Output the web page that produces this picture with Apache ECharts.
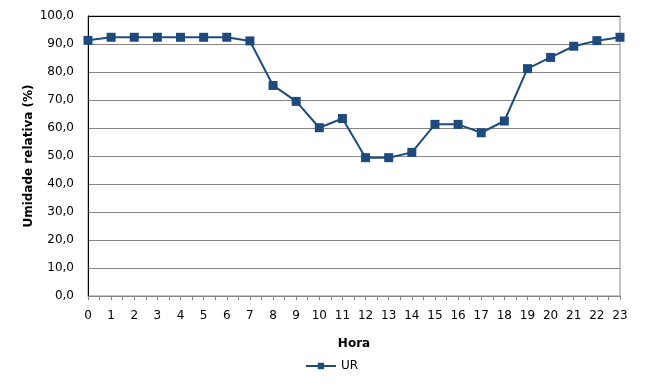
<!DOCTYPE html>
<html><head><meta charset="utf-8">
<script src="https://cdn.jsdelivr.net/npm/echarts@6/dist/echarts.min.js"></script>
<style>html,body{margin:0;padding:0;background:#fff}#c{width:663px;height:388px}</style>
</head><body><div id="c"></div>
<script>
const hours = [0,1,2,3,4,5,6,7,8,9,10,11,12,13,14,15,16,17,18,19,20,21,22,23];
const ur = [91.3,92.4,92.4,92.4,92.4,92.4,92.4,91.1,75.2,69.5,60.1,63.4,49.4,49.4,51.3,61.3,61.3,58.3,62.5,81.2,85.2,89.2,91.2,92.4];
const seriesName = 'UR';
const xTitle = 'Hora';
const yTitle = 'Umidade relativa (%)';

const font = 'DejaVu Sans, Verdana, sans-serif';
const chart = echarts.init(document.getElementById('c'));
const gridColors = ['#868686','#868686','#868686','#868686','#868686','#868686','#868686','#868686','#868686','#868686','#000000'];
chart.setOption({
  animation: false,
  textStyle: {fontFamily: font},
  grid: {left: 88, right: 43, top: 16, bottom: 92, show: true, borderColor: '#868686', borderWidth: 1},
  xAxis: {
    type: 'value', min: 0, max: 23, interval: 1,
    name: xTitle, nameLocation: 'middle', nameGap: 42,
    nameTextStyle: {fontWeight: 'bold', fontSize: 12, color: '#000', fontFamily: font},
    axisLine: {show: true, lineStyle: {color: '#868686'}},
    axisTick: {show: true, length: 4, lineStyle: {color: '#868686'}},
    minorTick: {show: true, splitNumber: 2, length: 4, lineStyle: {color: '#868686'}},
    axisLabel: {color: '#000', fontSize: 12, margin: 14, fontFamily: font},
    splitLine: {show: false}
  },
  yAxis: {
    type: 'value', min: 0, max: 100, interval: 10,
    name: yTitle, nameLocation: 'middle', nameGap: 53, nameMoveOverlap: false,
    nameTextStyle: {fontWeight: 'bold', fontSize: 12, color: '#000', fontFamily: font},
    axisLine: {show: true, lineStyle: {color: '#000'}},
    axisTick: {show: false},
    axisLabel: {color: '#000', fontSize: 12, margin: 14, fontFamily: font,
      formatter: v => v.toFixed(1).replace('.', ',')},
    splitLine: {show: true, lineStyle: {color: gridColors, width: 1}}
  },
  legend: {
    bottom: 11, left: 'center', itemWidth: 30, itemHeight: 8, itemGap: 4,
    textStyle: {color: '#000', fontSize: 12, fontFamily: font},
    data: [seriesName]
  },
  series: [{
    name: seriesName, type: 'line',
    data: hours.map((h, i) => [h, ur[i]]),
    symbol: 'rect', symbolSize: 9,
    itemStyle: {color: '#1F4A7E'},
    lineStyle: {color: '#1F4A7E', width: 2}
  }]
});
</script></body></html>
